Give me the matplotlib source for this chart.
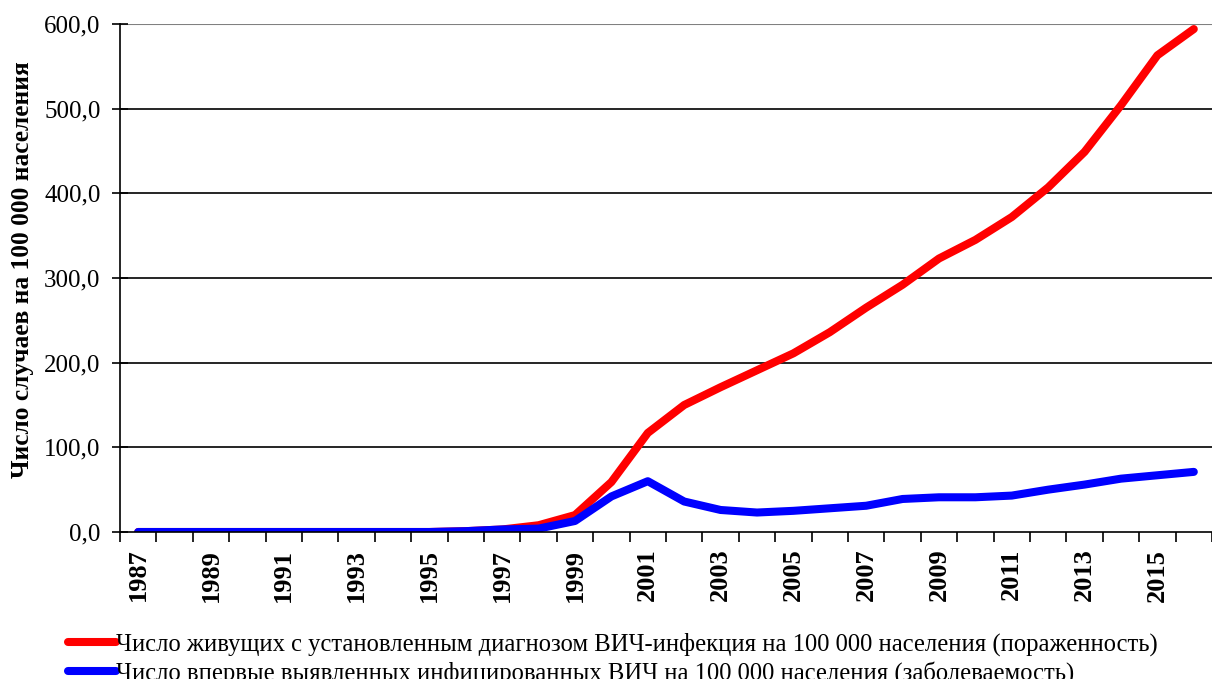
import matplotlib.pyplot as plt
from matplotlib.ticker import FuncFormatter

plt.rcParams['font.family'] = ['Liberation Serif', 'DejaVu Serif']

years = list(range(1987, 2017))

prevalence = [0, 0, 0, 0, 0, 0, 0, 0, 0, 1, 3, 8, 20, 59, 117,
              150, 171, 191, 211, 236, 265, 292, 323, 345, 372, 407, 449, 504, 563, 594]

incidence = [0, 0, 0, 0, 0, 0, 0, 0, 0, 1, 3, 4, 13, 42, 60,
             36, 26, 23, 25, 28, 31, 39, 41, 41, 43, 50, 56, 63, 67, 71]

label_red = 'Число живущих с установленным диагнозом ВИЧ-инфекция на 100 000 населения (пораженность)'
label_blue = 'Число впервые выявленных инфицированных ВИЧ на 100 000 населения (заболеваемость)'

fig = plt.figure(figsize=(12.12, 6.79), dpi=100)
ax = fig.add_axes([0.099, 0.2165, 0.901, 0.7482])

x = list(range(len(years)))
ax.plot(x, prevalence, color='#ff0000', lw=5.8, solid_capstyle='round', solid_joinstyle='round', label=label_red)
ax.plot(x, incidence, color='#0000ff', lw=5.8, solid_capstyle='round', solid_joinstyle='round', label=label_blue)

ax.set_ylim(0, 600)
ax.set_xlim(-0.5, 29.3)
ax.set_yticks(range(0, 601, 100))
ax.yaxis.set_major_formatter(FuncFormatter(lambda v, p: f'{v:.1f}'.replace('.', ',')))

for v in range(100, 600, 100):
    ax.axhline(v, color='black', lw=1.2, zorder=0)
ax.axhline(600, color='#808080', lw=1.5, zorder=0)

# ticks sit between the categories, labels on every other year
ax.set_xticks([i + 0.5 for i in range(-1, len(years))], minor=False)
ax.set_xticklabels([])
ax.set_xticks(x[::2], minor=True)
ax.set_xticklabels([str(y) for y in years[::2]], minor=True, rotation=90,
                   fontsize=19, fontweight='bold')
ax.tick_params(axis='x', which='minor', length=0, pad=12)
ax.tick_params(axis='x', which='major', length=7, width=1.2, direction='out')
ax.tick_params(axis='y', length=12, width=1.2, direction='inout', labelsize=18, pad=8)

for s in ['top', 'right']:
    ax.spines[s].set_visible(False)
ax.spines['left'].set_linewidth(1.2)
ax.spines['bottom'].set_linewidth(1.2)

ax.set_ylabel('Число случаев на 100 000 населения', fontsize=18.3, fontweight='bold')
ax.yaxis.set_label_coords(-0.079, 0.516)

fig.legend(loc='upper left', bbox_to_anchor=(0.048, 0.083), frameon=False, fontsize=17.7,
           handlelength=1.95, handletextpad=0.0, labelspacing=0.2, borderaxespad=0)

fig.savefig('out.png', dpi=100)
